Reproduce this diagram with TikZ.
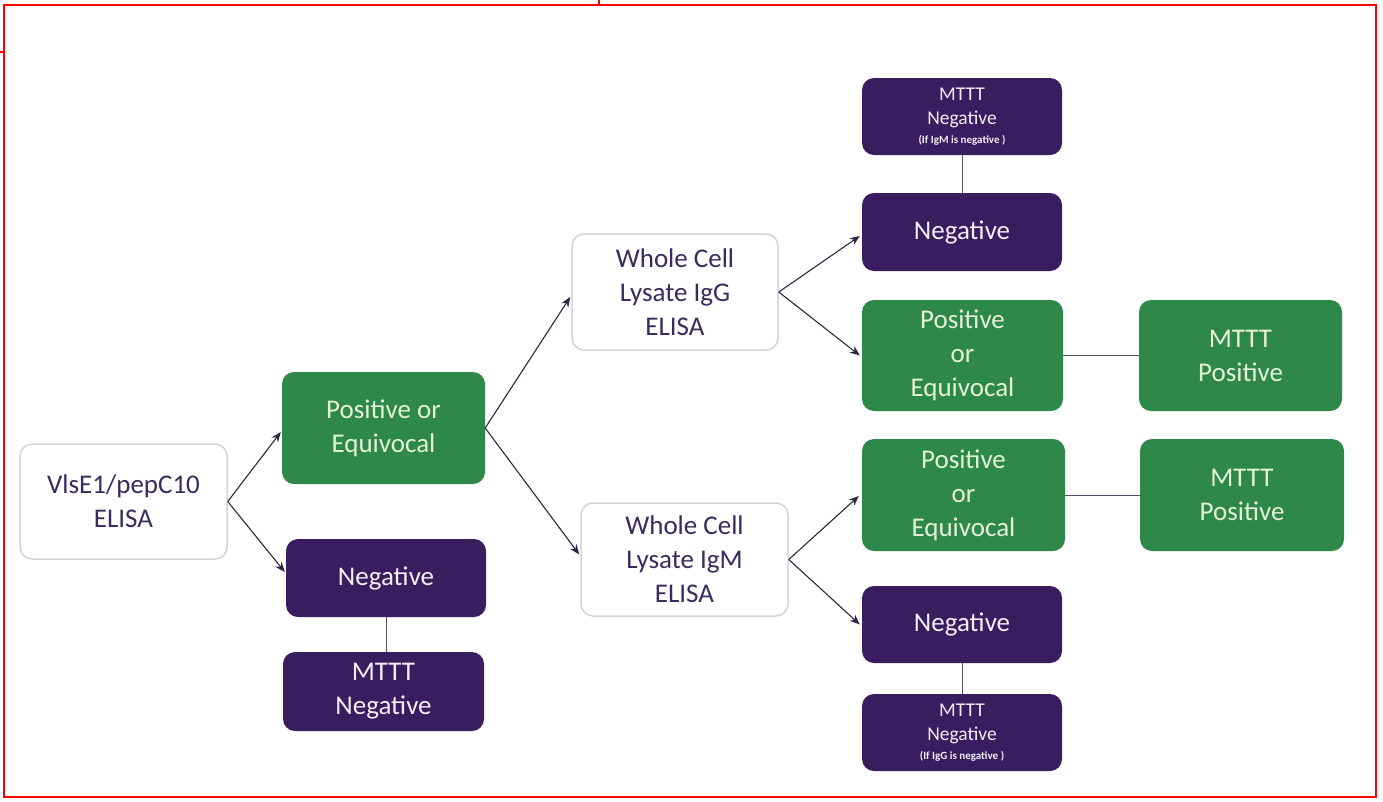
\documentclass[tikz,border=0pt]{standalone}
\usepackage{fontspec}
\setmainfont{Carlito}
\usetikzlibrary{arrows.meta}
\definecolor{boxgreen}{HTML}{2E8849}
\definecolor{boxpurple}{HTML}{3A1D5E}
\definecolor{greentext}{HTML}{E4F2D6}
\definecolor{purpletext}{HTML}{F3EEF8}
\definecolor{whitetext}{HTML}{3B2A5E}
\definecolor{whiteborder}{HTML}{D4D4D8}
\definecolor{arrowcol}{HTML}{2C2645}
\begin{document}
\begin{tikzpicture}[x=1pt,y=-1pt,
  base/.style={rectangle, rounded corners=12pt, inner sep=0pt, align=center,
    font=\fontsize{27}{34}\selectfont},
  wbox/.style={base, draw=whiteborder, line width=1.5pt, fill=white, text=whitetext},
  gbox/.style={base, fill=boxgreen, text=greentext},
  pbox/.style={base, fill=boxpurple, text=purpletext},
  smallbox/.style={pbox, font=\fontsize{19.5}{24}\selectfont},
  arr/.style={draw=arrowcol, line width=1.1pt, -{Stealth[length=10pt,width=8pt]}},
  lnk/.style={draw=arrowcol!80, line width=0.9pt},
  frame/.style={draw=red, line width=2pt}]
\useasboundingbox (0,0) rectangle (1383,801);
% frame
\draw[frame] (4,4.5) rectangle (1376,796.5);
\draw[frame] (0,52) -- (4,52);
\draw[frame] (599,0) -- (599,4.5);
% nodes
\node[wbox, minimum width=207pt, minimum height=115pt] (v) at (123.5,501.5) {VlsE1/pepC10\\ELISA};
\node[gbox, minimum width=203pt, minimum height=112pt] (p1) at (383.5,428) {Positive or\\Equivocal};
\node[pbox, minimum width=200pt, minimum height=78pt] (n1) at (386,578) {Negative};
\node[pbox, minimum width=201pt, minimum height=79pt] (m1) at (383.5,691.5) {MTTT\\Negative};
\node[wbox, minimum width=206pt, minimum height=116pt] (g) at (675,292) {Whole Cell\\Lysate IgG\\ELISA};
\node[wbox, minimum width=207pt, minimum height=113pt] (m) at (684.5,559.5) {Whole Cell\\Lysate IgM\\ELISA};
\node[smallbox, minimum width=200pt, minimum height=77pt] (t1) at (962,116.5)
  {MTTT\\Negative\\[-5pt]{\fontsize{11}{12}\selectfont\bfseries (If IgM is negative )}};
\node[pbox, minimum width=200pt, minimum height=78pt] (tn) at (962,232) {Negative};
\node[gbox, minimum width=201pt, minimum height=111pt] (tp) at (962.5,355.5) {Positive\\or\\Equivocal};
\node[gbox, minimum width=203pt, minimum height=111pt] (tmp) at (1240.5,355.5) {MTTT\\Positive};
\node[gbox, minimum width=203pt, minimum height=112pt] (bp) at (963.5,495) {Positive\\or\\Equivocal};
\node[gbox, minimum width=204pt, minimum height=112pt] (bmp) at (1242,495) {MTTT\\Positive};
\node[pbox, minimum width=200pt, minimum height=77pt] (bn) at (962,624.5) {Negative};
\node[smallbox, minimum width=200pt, minimum height=77pt] (bm) at (962,732.5)
  {MTTT\\Negative\\[-5pt]{\fontsize{11}{12}\selectfont\bfseries (If IgG is negative )}};
% arrows
\draw[arr] (v.east) -- ([shift={(-1pt,-4pt)}]p1.west);
\draw[arr] (v.east) -- ([shift={(-1pt,6pt)}]n1.west);
\draw[arr] (p1.east) -- ([shift={(-1pt,-5pt)}]g.west);
\draw[arr] (p1.east) -- ([shift={(-1pt,5pt)}]m.west);
\draw[arr] (g.east) -- ([shift={(-2pt,-4pt)}]tn.west);
\draw[arr] (g.east) -- ([shift={(-2pt,0pt)}]tp.west);
\draw[arr] (m.east) -- ([shift={(-3pt,-1pt)}]bp.west);
\draw[arr] (m.east) -- ([shift={(-2pt,0pt)}]bn.west);
% plain links
\draw[lnk] (n1.south) -- (n1.south |- m1.north);
\draw[lnk] (t1.south) -- (tn.north);
\draw[lnk] (bn.south) -- (bm.north);
\draw[lnk] (tp.east) -- (tmp.west);
\draw[lnk] (bp.east) -- (bmp.west);
\end{tikzpicture}
\end{document}
